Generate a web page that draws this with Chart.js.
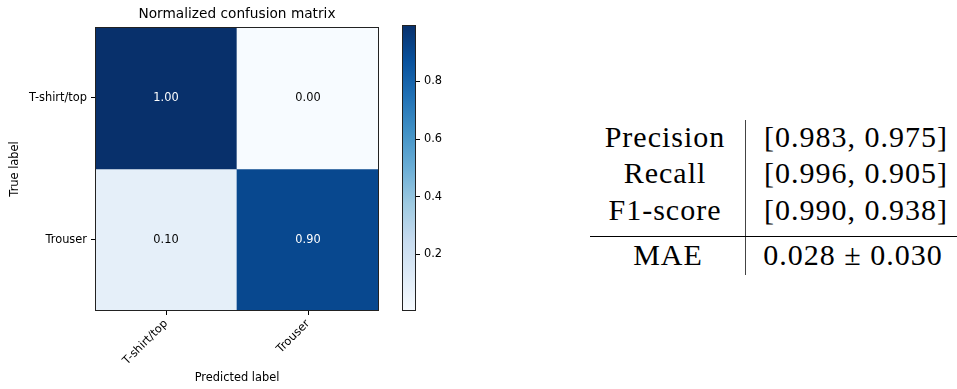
<!DOCTYPE html>
<html>
<head>
<meta charset="utf-8">
<script src="https://cdn.jsdelivr.net/npm/chart.js@4.4.1/dist/chart.umd.min.js"></script>
<style>
  body { margin: 0; background: #fff; }
  #wrap { position: relative; width: 957px; height: 389px; overflow: hidden; }
  canvas { position: absolute; top: 0; }
  .cell { position: absolute; font-family: "Liberation Serif", serif; font-size: 30px; color: #000;
          white-space: nowrap; line-height: 1; transform: translate(-50%, -50%); letter-spacing: 1px; }
  .rule { position: absolute; background: #000; }
</style>
</head>
<body>
<div id="wrap">
  <canvas id="cm" width="400" height="389" style="left:0;width:400px;height:389px"></canvas>
  <canvas id="cbar" width="80" height="389" style="left:380px;width:80px;height:389px"></canvas>
</div>
<script>
// confusion matrix (rows = true label, cols = predicted label)
const classNames = ['T-shirt/top', 'Trouser'];
const rowTshirt = [0.996, 0.004];
const rowTrouser = [0.0952, 0.9048];
const cmRows = [rowTshirt, rowTrouser];
const cbTicks = [0.2, 0.4, 0.6, 0.8];

// metrics table
const metricNames = ['Precision', 'Recall', 'F1-score'];
const precision = [0.983, 0.975];
const recall = [0.996, 0.905];
const f1score = [0.990, 0.938];
const maeMean = 0.028;
const maeStd = 0.030;

// matplotlib "Blues"
const blues = ['#f7fbff', '#deebf7', '#c6dbef', '#9ecae1', '#6baed6', '#4292c6', '#2171b5', '#08519c', '#08306b'];

const allVals = cmRows.flat();
const vMin = Math.min(...allVals);
const vMax = Math.max(...allVals);

function hex2rgb(h) {
  return [parseInt(h.slice(1, 3), 16), parseInt(h.slice(3, 5), 16), parseInt(h.slice(5, 7), 16)];
}
function bluesAt(t) {
  t = Math.max(0, Math.min(1, t));
  const p = t * (blues.length - 1);
  const i = Math.min(Math.floor(p), blues.length - 2);
  const f = p - i;
  const a = hex2rgb(blues[i]), b = hex2rgb(blues[i + 1]);
  const c = a.map((v, k) => Math.round(v + (b[k] - v) * f));
  return `rgb(${c[0]},${c[1]},${c[2]})`;
}
const norm = v => (v - vMin) / (vMax - vMin);

Chart.defaults.font.family = '"DejaVu Sans", sans-serif';
Chart.defaults.font.size = 11.4;
Chart.defaults.color = '#111';

const framePlugin = {
  id: 'frame',
  afterDatasetsDraw(chart) {
    const { ctx, chartArea: a } = chart;
    ctx.save();
    ctx.strokeStyle = '#222';
    ctx.lineWidth = 1;
    ctx.strokeRect(Math.round(a.left) + 0.5, Math.round(a.top) + 0.5,
      Math.round(a.right - a.left) - 1, Math.round(a.bottom - a.top) - 1);
    ctx.restore();
  }
};

const cellText = {
  id: 'cellText',
  afterDatasetsDraw(chart) {
    const ctx = chart.ctx;
    ctx.save();
    ctx.font = '11.4px "DejaVu Sans", sans-serif';
    ctx.textAlign = 'center';
    ctx.textBaseline = 'middle';
    chart.data.datasets.forEach((ds, i) => {
      chart.getDatasetMeta(i).data.forEach((bar, j) => {
        const v = cmRows[i][j];
        ctx.fillStyle = v > vMax / 2 ? '#fff' : '#000';
        ctx.fillText(v.toFixed(2), bar.x, (bar.y + bar.base) / 2);
      });
    });
    ctx.restore();
  }
};

new Chart(document.getElementById('cm'), {
  type: 'bar',
  data: {
    labels: classNames,
    datasets: cmRows.map((row, i) => ({
      label: classNames[i],
      data: row.map(() => [i, i + 1]),
      backgroundColor: row.map(v => bluesAt(norm(v))),
      grouped: false,
      barPercentage: 1,
      categoryPercentage: 1,
      borderWidth: 0
    }))
  },
  options: {
    responsive: false,
    animation: false,
    layout: { padding: { left: 0, right: 21, top: 0, bottom: 0 } },
    plugins: {
      legend: { display: false },
      tooltip: { enabled: false },
      title: {
        display: true,
        text: 'Normalized confusion matrix',
        fullSize: false,
        color: '#000',
        font: { size: 13.7, weight: 'normal' },
        padding: { top: 6, bottom: 4.5 }
      }
    },
    scales: {
      x: {
        offset: true,
        grid: { offset: false, drawOnChartArea: false, tickLength: 4, color: '#000' },
        border: { display: false },
        ticks: { minRotation: 45, maxRotation: 45, padding: 2, color: '#000' },
        title: { display: true, text: 'Predicted label', color: '#000', padding: { top: 0, bottom: 4 } },
        afterFit: s => { s.height = 78; }
      },
      y: {
        type: 'linear',
        min: 0,
        max: 2,
        reverse: true,
        grid: { drawOnChartArea: false, tickLength: 4, color: '#000' },
        border: { display: false },
        afterBuildTicks: s => { s.ticks = classNames.map((_, i) => ({ value: i + 0.5 })); },
        ticks: { padding: 4, color: '#000', callback: v => classNames[Math.round(v - 0.5)] },
        title: { display: true, text: 'True label', color: '#000', padding: { top: 8, bottom: 0 } },
        afterFit: s => { s.width = 95; }
      }
    }
  },
  plugins: [cellText, framePlugin]
});

// colorbar
new Chart(document.getElementById('cbar'), {
  type: 'bar',
  data: {
    labels: [''],
    datasets: [{
      data: [[vMin, vMax]],
      barPercentage: 1,
      categoryPercentage: 1,
      borderWidth: 0,
      backgroundColor: ctx => {
        const { chart } = ctx;
        if (!chart.chartArea) return blues[4];
        const y = chart.scales.y;
        const g = chart.ctx.createLinearGradient(0, y.getPixelForValue(vMin), 0, y.getPixelForValue(vMax));
        blues.forEach((c, k) => g.addColorStop(k / (blues.length - 1), c));
        return g;
      }
    }]
  },
  options: {
    responsive: false,
    animation: false,
    layout: { padding: { left: 22, right: 0, top: 25, bottom: 78 } },
    plugins: { legend: { display: false }, tooltip: { enabled: false } },
    scales: {
      x: { display: false },
      y: {
        position: 'right',
        min: vMin,
        max: vMax,
        grid: { drawOnChartArea: false, tickLength: 4, color: '#000' },
        border: { display: false },
        afterBuildTicks: s => { s.ticks = cbTicks.map(v => ({ value: v })); },
        ticks: { padding: 4, color: '#000', callback: v => v.toFixed(1) },
        afterFit: s => { s.width = 44; }
      }
    }
  },
  plugins: [framePlugin]
});

// metrics table (LaTeX-style)
const wrap = document.getElementById('wrap');
function put(text, x, y) {
  const d = document.createElement('div');
  d.className = 'cell';
  d.textContent = text;
  d.style.left = x + 'px';
  d.style.top = y + 'px';
  wrap.appendChild(d);
}
function rule(x, y, w, h, color) {
  const d = document.createElement('div');
  d.className = 'rule';
  Object.assign(d.style, { left: x + 'px', top: y + 'px', width: w + 'px', height: h + 'px', background: color });
  wrap.appendChild(d);
}
const pair = a => `[${a[0].toFixed(3)}, ${a[1].toFixed(3)}]`;
const metricVals = [precision, recall, f1score];
const rowY = [137, 173, 210];
metricNames.forEach((n, i) => {
  put(n, 665, rowY[i]);
  put(pair(metricVals[i]), 856, rowY[i]);
});
put('MAE', 668, 255);
put(`${maeMean.toFixed(3)} \u00b1 ${maeStd.toFixed(3)}`, 853, 255);
rule(745, 120, 1, 155, '#444');
rule(590, 235.5, 367, 1.2, '#000');
</script>
</body>
</html>
